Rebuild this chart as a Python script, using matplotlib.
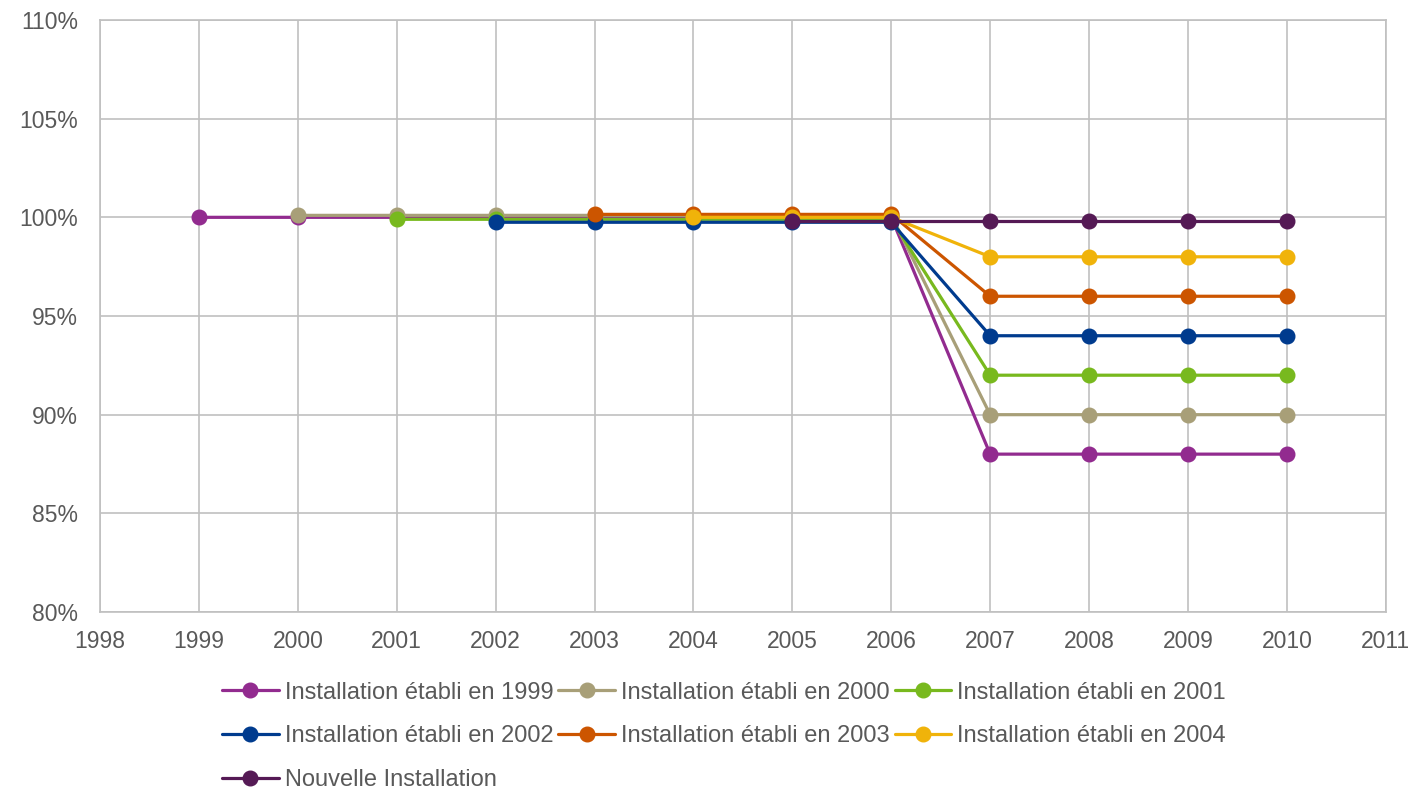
import matplotlib.pyplot as plt
from matplotlib.ticker import FuncFormatter

plt.rcParams['font.family'] = ['Liberation Sans', 'DejaVu Sans']

years_1999 = [1999, 2000, 2001, 2002, 2003, 2004, 2005, 2006, 2007, 2008, 2009, 2010]
vals_1999 = [100, 100, 100, 100, 100, 100, 100, 100, 88, 88, 88, 88]
years_2000 = years_1999[1:]
vals_2000 = [100.1, 100.1, 100.1, 100.1, 100.1, 100.1, 100.1, 90, 90, 90, 90]
years_2001 = years_1999[2:]
vals_2001 = [99.9, 99.9, 99.9, 99.9, 99.9, 99.9, 92, 92, 92, 92]
years_2002 = years_1999[3:]
vals_2002 = [99.75, 99.75, 99.75, 99.75, 99.75, 94, 94, 94, 94]
years_2003 = years_1999[4:]
vals_2003 = [100.15, 100.15, 100.15, 100.15, 96, 96, 96, 96]
years_2004 = years_1999[5:]
vals_2004 = [100, 100, 100, 98, 98, 98, 98]
years_new = years_1999[6:]
vals_new = [99.8, 99.8, 99.8, 99.8, 99.8, 99.8]

labels = ['Installation établi en 1999', 'Installation établi en 2000',
          'Installation établi en 2001', 'Installation établi en 2002',
          'Installation établi en 2003', 'Installation établi en 2004',
          'Nouvelle Installation']
colors = ['#922B8F', '#A89F78', '#78B91E', '#003B8E', '#CC5500', '#F0B30A', '#551A55']
series = [(years_1999, vals_1999), (years_2000, vals_2000), (years_2001, vals_2001),
          (years_2002, vals_2002), (years_2003, vals_2003), (years_2004, vals_2004),
          (years_new, vals_new)]

fig = plt.figure(figsize=(14.17, 7.90), dpi=100)
ax = fig.add_axes([0.0706, 0.2253, 0.9074, 0.7494])

handles = []
for (x, y), c, lab in zip(series, colors, labels):
    h, = ax.plot(x, y, color=c, lw=2.3, marker='o', ms=10.5, label=lab, solid_capstyle='round')
    handles.append(h)

ax.set_xlim(1998, 2011)
ax.set_ylim(80, 110)
ax.set_xticks(range(1998, 2012))
ax.set_yticks(range(80, 111, 5))
ax.yaxis.set_major_formatter(FuncFormatter(lambda v, p: f'{v:.0f}%'))
ax.grid(True, color='#C0C0C0', lw=1.2)
ax.set_axisbelow(True)
for s in ax.spines.values():
    s.set_color('#C0C0C0')
    s.set_linewidth(1.2)
ax.tick_params(length=0, labelsize=16.5, labelcolor='#595959')
ax.tick_params(axis='x', pad=13)
ax.tick_params(axis='y', pad=16)

# reorder so the legend reads row by row
order = [0, 3, 6, 1, 4, 2, 5]
fig.legend([handles[i] for i in order], [labels[i] for i in order],
           ncol=3, loc='upper left', bbox_to_anchor=(0.150, 0.149),
           frameon=False, fontsize=17, labelcolor='#595959',
           handlelength=2.4, handletextpad=0.25, columnspacing=0.22,
           labelspacing=0.92, borderaxespad=0)

fig.savefig('out.png', dpi=100)
